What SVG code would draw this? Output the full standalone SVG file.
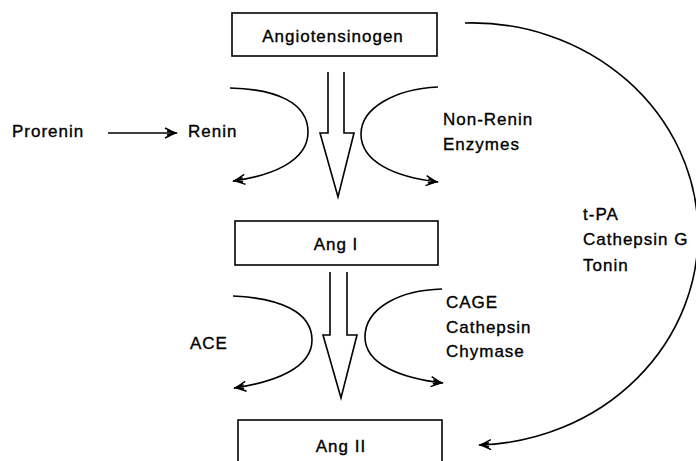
<svg xmlns="http://www.w3.org/2000/svg" width="696" height="461" viewBox="0 0 696 461">
<style>
text{font-family:"Liberation Sans",Arial,sans-serif;font-size:17px;letter-spacing:1px;fill:#000;stroke:#000;stroke-width:0.35}
.box{fill:#fff;stroke:#000;stroke-width:1.6}
.ln{fill:none;stroke:#000;stroke-width:1.6}
.hollow{fill:#fff;stroke:#000;stroke-width:1.6;stroke-linejoin:miter}
</style>
<defs>
<marker id="ah" viewBox="-14 -6 16 12" markerWidth="16" markerHeight="12" refX="0" refY="0" orient="auto" markerUnits="userSpaceOnUse">
<path d="M-12,-5 L-2,0 L-12,5 M-10,-2 L-2,0 L-10,2" fill="none" stroke="#000" stroke-width="1.5"/>
<path d="M-5,-2 L1,0 L-5,2 Z" fill="#000"/>
</marker>
</defs>
<rect width="696" height="461" fill="#fff"/>
<g id="angiotensinogen"><rect class="box" x="232" y="13" width="205" height="43"/><text x="333" y="42" text-anchor="middle">Angiotensinogen</text></g>
<g id="ang1"><rect class="box" x="235" y="221" width="203" height="44"/><text x="336" y="250" text-anchor="middle">Ang I</text></g>
<g id="ang2"><rect class="box" x="238" y="420" width="204" height="50"/><text x="341" y="452" text-anchor="middle">Ang II</text></g>
<g id="prorenin"><text x="12" y="137">Prorenin</text></g>
<g id="renin"><text x="188" y="137">Renin</text></g>
<g id="nonrenin"><text x="443" y="125">Non-Renin</text><text x="443" y="150">Enzymes</text></g>
<g id="ace"><text x="190" y="349">ACE</text></g>
<g id="cage"><text x="446" y="308">CAGE</text><text x="446" y="333">Cathepsin</text><text x="446" y="357">Chymase</text></g>
<g id="tpa"><text x="583" y="220">t-PA</text><text x="583" y="245">Cathepsin G</text><text x="583" y="271">Tonin</text></g>
<g id="connectors">
<path class="hollow" d="M328,72 L328,133 L320,133 L338,197 L354,133 L344,133 L344,72"/>
<path class="hollow" d="M330,272 L330,335 L323,335 L341,398 L357,335 L347,335 L347,272"/>
<path class="ln" marker-end="url(#ah)" d="M108,133 L177,133"/>
<path class="ln" marker-end="url(#ah)" d="M230,88 C275,89 308,102 308,132 C308,162 270,176 233,181"/>
<path class="ln" marker-end="url(#ah)" d="M438,87 C395,89 361,108 361,134 C361,162 395,177 438,182"/>
<path class="ln" marker-end="url(#ah)" d="M233,296 C280,298 312,312 312,340 C312,368 275,382 234,388"/>
<path class="ln" marker-end="url(#ah)" d="M442,289 C400,290 365,308 365,337 C365,364 400,378 443,383"/>
<path class="ln" marker-end="url(#ah)" d="M465,23 A226 211 0 0 1 479,445"/>
</g>
</svg>
